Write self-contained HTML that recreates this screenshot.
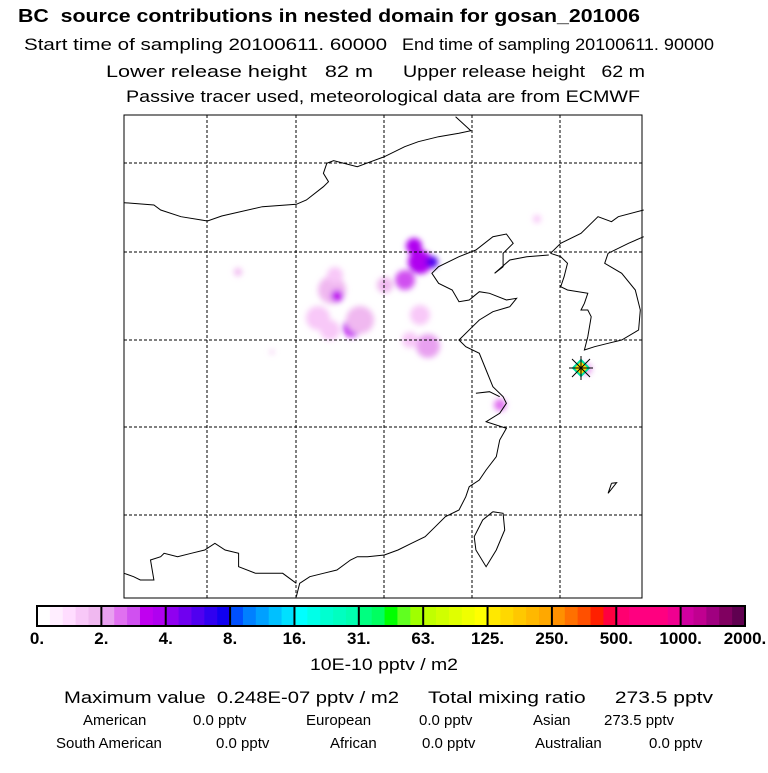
<!DOCTYPE html>
<html><head><meta charset="utf-8"><style>
body{margin:0;background:#fff;width:768px;height:768px;overflow:hidden;font-family:"Liberation Sans",sans-serif;}
text{white-space:pre;}
</style></head><body>
<svg width="768" height="768" xmlns="http://www.w3.org/2000/svg" font-family="Liberation Sans, sans-serif">
<defs>
<filter id="blur" x="-50%" y="-50%" width="200%" height="200%"><feGaussianBlur stdDeviation="3"/></filter>
</defs>
<text x="18" y="22" font-size="18" font-weight="bold" textLength="622" lengthAdjust="spacingAndGlyphs">BC  source contributions in nested domain for gosan_201006</text>
<text x="24" y="50" font-size="17" textLength="363" lengthAdjust="spacingAndGlyphs">Start time of sampling 20100611. 60000</text>
<text x="402" y="50" font-size="17" textLength="312" lengthAdjust="spacingAndGlyphs">End time of sampling 20100611. 90000</text>
<text x="106" y="77" font-size="17" textLength="267" lengthAdjust="spacingAndGlyphs">Lower release height   82 m</text>
<text x="403" y="77" font-size="17" textLength="242" lengthAdjust="spacingAndGlyphs">Upper release height   62 m</text>
<text x="126" y="102" font-size="17" textLength="514" lengthAdjust="spacingAndGlyphs">Passive tracer used, meteorological data are from ECMWF</text>
<g id="map">
<g id="plumes" filter="url(#blur)"></g>
<g id="grid"></g>
<g id="coast" fill="none" stroke="#000" stroke-width="1"></g>
<g id="station"></g>
<rect x="124" y="115" width="518" height="483" fill="none" stroke="#000" stroke-width="1"/>
</g>
<g id="cbar"></g>
<text x="310" y="670" font-size="17" textLength="148" lengthAdjust="spacingAndGlyphs">10E-10 pptv / m2</text>
<text x="64" y="703" font-size="17" textLength="335" lengthAdjust="spacingAndGlyphs">Maximum value  0.248E-07 pptv / m2</text>
<text x="428" y="703" font-size="17" textLength="285" lengthAdjust="spacingAndGlyphs">Total mixing ratio     273.5 pptv</text>
<g font-size="15">
<text x="83" y="725">American</text><text x="193" y="725">0.0 pptv</text>
<text x="306" y="725">European</text><text x="419" y="725">0.0 pptv</text>
<text x="533" y="725">Asian</text><text x="604" y="725">273.5 pptv</text>
<text x="56" y="748">South American</text><text x="216" y="748">0.0 pptv</text>
<text x="330" y="748">African</text><text x="422" y="748">0.0 pptv</text>
<text x="535" y="748">Australian</text><text x="649" y="748">0.0 pptv</text>
</g>
</svg>
<script>
const NS='http://www.w3.org/2000/svg';
const cbLabels=['0.','2.','4.','8.','16.','31.','63.','125.','250.','500.','1000.','2000.'];
const cbColors=[
['#ffffff','#ffeeff','#ffddff','#f8c8f8','#f0b8f0'],
['#e8a0f0','#e070f0','#d050f0','#c000f0','#b000f0'],
['#9000f0','#7000f0','#5000f0','#3000f0','#1000f0'],
['#0050ff','#0080ff','#00a0ff','#00c0ff','#00e0ff'],
['#00ffff','#00ffe8','#00ffd0','#00ffc0','#00ffb0'],
['#00ff80','#00ff60','#00ff00','#60ff20','#a0ff00'],
['#c0ff00','#d0ff00','#e0ff00','#f0ff00','#ffff00'],
['#ffe800','#ffd800','#ffc800','#ffb800','#ffa800'],
['#ff9000','#ff7000','#ff5000','#ff2000','#ff0040'],
['#ff0070','#ff0080','#ff0080','#ff0080','#f00090'],
['#d000a0','#c00090','#a00080','#800060','#600050']];
const blobs=[ // x,y (map px), radius, colour
[414,246,8,'#b000f0'],[420,262,12,'#b000f0'],[432,262,6,'#5000f0'],[405,280,10,'#d050f0'],[385,285,8,'#f0b8f0'],
[332,290,14,'#f0b8f0'],[337,296,6,'#c000f0'],[335,275,8,'#f8c8f8'],[318,318,12,'#f8c8f8'],
[352,328,9,'#c000f0'],[360,320,14,'#f0b8f0'],[330,330,10,'#f8c8f8'],
[428,346,12,'#e8a0f0'],[410,340,8,'#f8c8f8'],[420,315,10,'#f8c8f8'],[238,272,4,'#f0b8f0'],
[500,405,6,'#e070f0'],[537,219,4,'#f8c8f8'],[272,352,2,'#f0b8f0'],[586,369,6,'#e8a0f0']];
function mk(tag,attrs,parent){const e=document.createElementNS(NS,tag);for(const k in attrs)e.setAttribute(k,attrs[k]);parent.appendChild(e);return e;}
const pl=document.getElementById('plumes');
blobs.forEach(b=>{const c=mk('circle',{cx:b[0],cy:b[1],r:b[2],fill:b[3]},pl);

});
const g=document.getElementById('grid');
[207,296,384,472,560].forEach(x=>{const l=mk('line',{x1:x,y1:115,x2:x,y2:598,stroke:'#000','stroke-dasharray':'3,2','stroke-width':1},g);

});
[163,252,340,427,515].forEach(y=>{const l=mk('line',{x1:124,y1:y,x2:642,y2:y,stroke:'#000','stroke-dasharray':'3,2','stroke-width':1},g);

});
const coasts=[
[[12,278],[100,285],[120,300],[180,320],[240,330],[258,333],[300,318],[420,290],[520,283],[550,270],[600,230],[615,215],[600,190],[610,160],[630,152],[700,170],[740,155],[780,140],[840,110],[880,95],[940,80],[1000,70],[1035,62],[990,20]],
[[1265,435],[1200,440],[1150,450],[1105,490],[1130,470],[1130,430],[1160,400],[1140,372],[1100,380],[1050,420],[1000,440],[940,470],[920,490],[940,520],[980,540],[1000,575],[1030,570],[1060,545],[1090,550],[1140,570],[1170,565],[1150,590],[1100,605],[1060,630],[1040,650],[1000,690],[1020,710],[1060,730],[1080,780],[1100,830],[1130,860],[1140,880],[1120,910],[1080,935],[1140,955],[1120,990],[1110,1040],[1080,1080],[1060,1110],[1030,1130],[1020,1160],[1000,1200],[960,1220],[930,1250],[900,1280],[860,1300],[820,1320],[780,1335],[730,1340],[700,1340],[680,1350],[640,1380],[600,1390],[560,1400],[530,1420],[520,1460]],
[[1270,430],[1300,400],[1360,370],[1410,320],[1450,335],[1470,320],[1545,300]],
[[1545,380],[1500,400],[1440,430],[1430,460],[1480,490],[1520,540],[1535,600],[1530,660],[1480,690],[1440,700],[1400,710],[1370,720],[1380,680],[1390,620],[1380,600],[1360,600],[1370,580],[1380,550],[1320,540],[1300,530],[1310,500],[1320,460],[1300,440],[1270,430]],
[[1100,1205],[1130,1210],[1135,1260],[1110,1320],[1080,1370],[1050,1320],[1045,1280],[1070,1230],[1100,1205]],
[[12,1390],[40,1400],[60,1410],[100,1410],[90,1350],[120,1340],[130,1330],[170,1340],[210,1330],[250,1320],[280,1300],[310,1320],[350,1330],[350,1370],[400,1390],[440,1390],[480,1390],[520,1420]],
[[1050,850],[1090,845],[1120,860]],[[1450,1120],[1465,1118],[1440,1150],[1450,1120]]];
const co=document.getElementById('coast');
coasts.forEach(c=>{const p=mk('polyline',{points:c.map(q=>(120+q[0]/2.95).toFixed(1)+','+(110+q[1]/3).toFixed(1)).join(' ')},co);

});
const st=document.getElementById('station');
mk('polygon',{points:'581,360 589,368 581,376 573,368',fill:'#ffd800',stroke:'#00e0a0','stroke-width':2},st);
[[569,368,593,368],[581,356,581,380],[572,359,590,377],[572,377,590,359]].forEach(a=>mk('line',{x1:a[0],y1:a[1],x2:a[2],y2:a[3],stroke:'#000','stroke-width':1},st));
const cb=document.getElementById('cbar');
const x0=37,x1=745,segW=(x1-x0)/cbColors.length;
cbColors.forEach((seg,i)=>{seg.forEach((c,j)=>{const r=mk('rect',{x:x0+i*segW+j*segW/seg.length,y:606,width:segW/seg.length+0.5,height:20,fill:c},cb);

});
mk('line',{x1:x0+i*segW,y1:606,x2:x0+i*segW,y2:626,stroke:'#000','stroke-width':2},cb);});
mk('rect',{x:x0,y:606,width:x1-x0,height:20,fill:'none',stroke:'#000','stroke-width':2},cb);
cbLabels.forEach((t,i)=>{const e=mk('text',{x:x0+i*segW,y:644,'font-size':17,'font-weight':'bold','text-anchor':'middle'},cb);e.textContent=t;

});
</script>
</body></html>
